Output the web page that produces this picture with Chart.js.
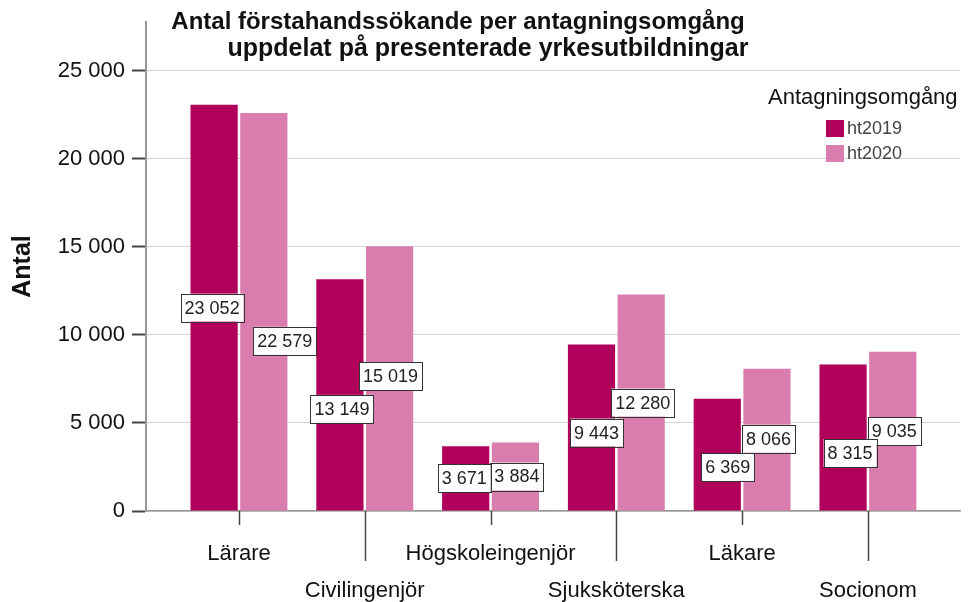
<!DOCTYPE html>
<html><head><meta charset="utf-8">
<script src="https://cdn.jsdelivr.net/npm/chart.js@4.4.1/dist/chart.umd.min.js"></script>
<style>html,body{margin:0;padding:0;background:#fff}canvas{display:block}</style>
</head><body>
<canvas id="c" width="969" height="602"></canvas>
<script>
const categories = ['Lärare','Civilingenjör','Högskoleingenjör','Sjuksköterska','Läkare','Socionom'];
const seriesNames = ['ht2019','ht2020'];
const ht2019 = [23052,13149,3671,9443,6369,8315];
const ht2020 = [22579,15019,3884,12280,8066,9035];
const yTicks = [0,5000,10000,15000,20000,25000];
const titleLines = ['Antal förstahandssökande per antagningsomgång','uppdelat på presenterade yrkesutbildningar'];
const legendTitle = 'Antagningsomgång';
const yTitle = 'Antal';

const FONT = '"Liberation Sans", Arial, sans-serif';
const fmt = v => String(v).replace(/\B(?=(\d{3})+(?!\d))/g, ' ');

const labelPlugin = {
  id: 'boxLabels',
  afterDatasetsDraw(chart, args, opts) {
    const ctx = chart.ctx;
    ctx.save();
    ctx.font = '18px ' + FONT;
    ctx.textAlign = 'center';
    ctx.textBaseline = 'middle';
    for (let d = chart.data.datasets.length - 1; d >= 0; d--) {
      const meta = chart.getDatasetMeta(d);
      const ds = chart.data.datasets[d];
      meta.data.forEach((bar, i) => {
        const off = opts.offsets[d][i];
        const v = ds.data[i].y;
        const txt = fmt(v);
        const cx = bar.x + off[0];
        const cy = (bar.y + bar.base) / 2 + off[1];
        const w = ctx.measureText(txt).width + 8;
        const h = 28;
        ctx.fillStyle = '#fff';
        ctx.fillRect(cx - w/2, cy - h/2, w, h);
        ctx.strokeStyle = '#333';
        ctx.lineWidth = 1;
        ctx.strokeRect(Math.round(cx - w/2) + 0.5, Math.round(cy - h/2) + 0.5, Math.round(w), h);
        ctx.fillStyle = '#222';
        ctx.fillText(txt, cx, cy + 1);
      });
    }
    ctx.restore();
  }
};

const decorPlugin = {
  id: 'decor',
  beforeDraw(chart) {
    const ctx = chart.ctx;
    ctx.save();
    ctx.fillStyle = '#fff';
    ctx.fillRect(0, 0, chart.width, chart.height);
    ctx.restore();
  },
  afterDraw(chart) {
    const ctx = chart.ctx;
    const xs = chart.scales.x;
    const bottom = chart.chartArea.bottom;
    ctx.save();
    ctx.strokeStyle = '#444';
    ctx.lineWidth = 1.5;
    categories.forEach((c, i) => {
      const px = Math.round(xs.getPixelForValue(i)) + 0.5;
      ctx.beginPath();
      ctx.moveTo(px, bottom);
      ctx.lineTo(px, bottom + (i % 2 ? 50 : 14));
      ctx.stroke();
    });
    ctx.fillStyle = '#111';
    ctx.font = 'bold 24px ' + FONT;
    ctx.textAlign = 'center';
    ctx.textBaseline = 'alphabetic';
    ctx.fillText(titleLines[0], 458, 29);
    ctx.font = 'bold 25px ' + FONT;
    ctx.fillText(titleLines[1], 488, 56);
    ctx.textAlign = 'left';
    ctx.textBaseline = 'middle';
    ctx.font = '22px ' + FONT;
    ctx.fillText(legendTitle, 768, 98);
    ctx.font = '18px ' + FONT;
    chart.data.datasets.forEach((ds, i) => {
      const y = 120 + i * 25;
      ctx.fillStyle = ds.backgroundColor;
      ctx.fillRect(826, y, 18, 17);
      ctx.fillStyle = '#444';
      ctx.fillText(ds.label, 847, y + 9.5);
    });
    ctx.restore();
  }
};

new Chart(document.getElementById('c'), {
  type: 'bar',
  data: {
    datasets: [
      { label: seriesNames[0], data: ht2019.map((v, i) => ({x: i, y: v})), backgroundColor: '#B0005C' },
      { label: seriesNames[1], data: ht2020.map((v, i) => ({x: i, y: v})), backgroundColor: '#D87DAD' }
    ]
  },
  options: {
    responsive: false,
    animation: false,
    devicePixelRatio: 1,
    categoryPercentage: 0.79,
    barPercentage: 0.95,
    layout: { padding: { top: 22, right: 9, left: 0, bottom: 0 } },
    plugins: {
      legend: { display: false },
      title: { display: false },
      tooltip: { enabled: false },
      boxLabels: {
        offsets: [
          [[-2,0],[2,14],[-1.5,0],[5,5],[10.5,12.5],[7,15.5]],
          [[21,29],[1,-2],[1.5,0],[1.5,0],[1.5,-1],[1.5,0]]
        ]
      }
    },
    scales: {
      x: {
        type: 'linear',
        offset: false,
        min: -0.739,
        max: 5.732,
        afterBuildTicks: s => { s.ticks = categories.map((_, i) => ({ value: i })); },
        afterFit: s => { s.height = 91; },
        grid: { display: false, offset: false },
        border: { display: true, color: '#999', width: 1.5 },
        ticks: {
          autoSkip: false,
          maxRotation: 0,
          minRotation: 0,
          padding: 16.5,
          color: '#111',
          font: { family: FONT, size: 22, lineHeight: 37/22 },
          callback: v => { const i = Math.round(v); return i % 2 ? ['', categories[i]] : categories[i]; }
        }
      },
      y: {
        min: 0,
        max: 27750,
        afterBuildTicks: s => { s.ticks = yTicks.map(v => ({ value: v })); },
        afterFit: s => { s.width = 146; },
        grid: { color: '#d4d4d4', lineWidth: 1, tickLength: 14, tickColor: '#444', tickWidth: 2 },
        border: { display: true, color: '#999', width: 2 },
        ticks: {
          padding: 7,
          color: '#111',
          font: { family: FONT, size: 22 },
          callback: v => fmt(v)
        },
        title: {
          display: true,
          text: yTitle,
          color: '#111',
          font: { family: FONT, size: 25, weight: 'bold' },
          padding: { top: 8, bottom: 4 }
        }
      }
    }
  },
  plugins: [decorPlugin, labelPlugin]
});
</script>
</body></html>
